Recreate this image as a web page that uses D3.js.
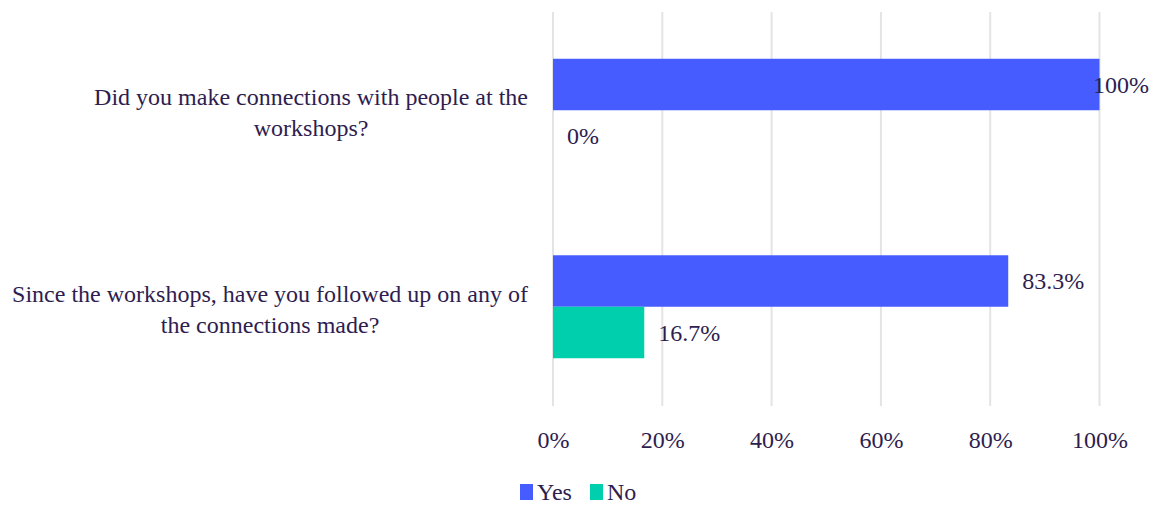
<!DOCTYPE html>
<html>
<head>
<meta charset="utf-8">
<script src="https://cdn.jsdelivr.net/npm/d3@7"></script>
<style>
  html, body { margin: 0; padding: 0; background: #fff; }
  svg { display: block; font-family: "Liberation Serif", "DejaVu Serif", serif; }
</style>
</head>
<body>
<svg id="chart" width="1157" height="506"></svg>
<script>
// Survey questions and the share of answers per response
const questions = [
  "Did you make connections with people at the workshops?",
  "Since the workshops, have you followed up on any of the connections made?"
];
const responses = ["Yes", "No"];
const yesValues = [1.0, 0.833];
const noValues = [0.0, 0.167];
const tickValues = [0, 0.2, 0.4, 0.6, 0.8, 1.0];

const colors = { Yes: "#465cff", No: "#00cfad" };
const textColor = "#2e1d4f";
const gridColor = "#e4e4e4";
const fontSize = 24;

const W = 1157, H = 506;
const svg = d3.select("#chart");

const rows = questions.map((q, i) => ({
  question: q,
  values: [{ key: "Yes", value: yesValues[i] }, { key: "No", value: noValues[i] }]
}));

const x = d3.scaleLinear().domain([0, 1]).range([553, 1099.5]);
const y = d3.scaleBand().domain(questions).range([12, 405])
  .paddingInner(0.476).paddingOuter(0.238);
const ySub = d3.scaleBand().domain(responses).range([0, y.bandwidth()]);

// vertical gridlines
svg.append("g").selectAll("line")
  .data(tickValues).join("line")
  .attr("x1", d => x(d)).attr("x2", d => x(d))
  .attr("y1", 12).attr("y2", 406)
  .attr("stroke", gridColor).attr("stroke-width", 2);

// x axis labels
const xAxis = d3.axisBottom(x).tickValues(tickValues)
  .tickFormat(d3.format(".0%")).tickSize(0).tickPadding(0);
const gx = svg.append("g").attr("transform", "translate(0,431)").call(xAxis);
gx.select(".domain").remove();
gx.selectAll("text")
  .attr("fill", textColor)
  .attr("font-size", fontSize)
  .attr("font-family", "Liberation Serif, DejaVu Serif, serif");

// bars
const groups = svg.append("g").selectAll("g")
  .data(rows).join("g")
  .attr("transform", d => `translate(0,${y(d.question)})`);

groups.selectAll("rect")
  .data(d => d.values).join("rect")
  .attr("x", x(0))
  .attr("y", d => ySub(d.key))
  .attr("width", d => x(d.value) - x(0))
  .attr("height", ySub.bandwidth())
  .attr("fill", d => colors[d.key]);

// value labels, kept inside the drawing area
const fmtVal = v => (Math.round(v * 1000) / 10) + "%";
groups.selectAll("text.val")
  .data(d => d.values).join("text")
  .attr("class", "val")
  .attr("y", d => ySub(d.key) + ySub.bandwidth() / 2)
  .attr("dy", "0.35em")
  .attr("font-size", fontSize)
  .attr("fill", textColor)
  .text(d => fmtVal(d.value))
  .each(function (d) {
    const w = this.getComputedTextLength();
    const px = Math.min(x(d.value) + 14, W - 8 - w);
    d3.select(this).attr("x", px);
  });

// wrapped question labels: right-aligned block, lines centred within it
const labelRight = 528, maxWidth = 530, lineHeight = 31;
const labels = svg.append("g").selectAll("text.q")
  .data(questions).join("text")
  .attr("class", "q")
  .attr("font-size", fontSize)
  .attr("fill", textColor)
  .attr("text-anchor", "middle");

labels.each(function (q) {
  const t = d3.select(this);
  const words = q.split(" ");
  const lines = [];
  let line = [];
  const probe = t.append("tspan");
  words.forEach(w => {
    const test = line.concat(w).join(" ");
    probe.text(test);
    if (probe.node().getComputedTextLength() > maxWidth && line.length) {
      lines.push(line.join(" "));
      line = [w];
    } else {
      line.push(w);
    }
  });
  if (line.length) lines.push(line.join(" "));
  let blockW = 0;
  lines.forEach(l => { probe.text(l); blockW = Math.max(blockW, probe.node().getComputedTextLength()); });
  probe.remove();
  const cx = labelRight - blockW / 2;
  const cy = y(q) + y.bandwidth() / 2 + 2;
  const top = cy - (lines.length - 1) * lineHeight / 2;
  lines.forEach((l, i) => {
    t.append("tspan").attr("x", cx).attr("y", top + i * lineHeight).attr("dy", "0.35em").text(l);
  });
});

// legend
const legend = svg.append("g").attr("transform", "translate(520,484)");
const items = [
  { key: "Yes", x: 0 },
  { key: "No", x: 70 }
];
const li = legend.selectAll("g").data(items).join("g")
  .attr("transform", d => `translate(${d.x},0)`);
li.append("rect").attr("width", 13).attr("height", 16).attr("fill", d => colors[d.key]);
li.append("text").attr("x", 17).attr("y", 8).attr("dy", "0.35em")
  .attr("font-size", fontSize).attr("fill", textColor).text(d => d.key);
</script>
</body>
</html>
